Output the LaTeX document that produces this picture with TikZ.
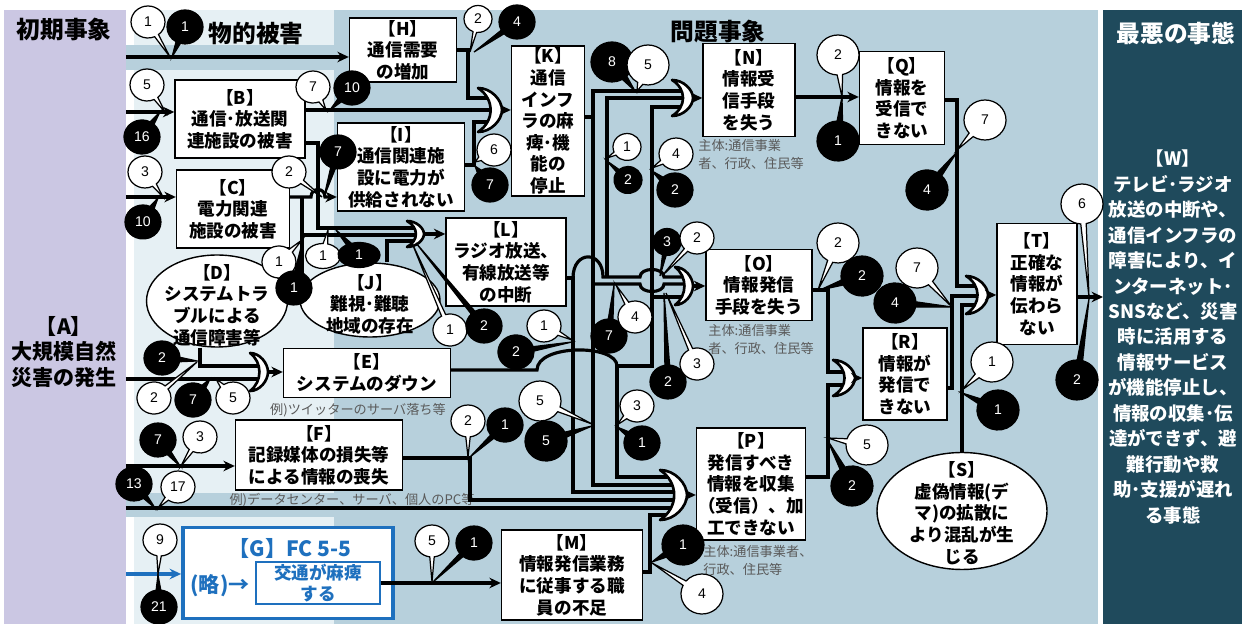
\documentclass[tikz,border=0pt]{standalone}
\usepackage{fontspec}
\setmainfont{Noto Sans CJK JP}
\newfontfamily\numf{Liberation Sans}
\usetikzlibrary{shapes.geometric,shapes.callouts,arrows.meta}
\definecolor{lav}{RGB}{203,199,227}
\definecolor{lite}{RGB}{230,240,244}
\definecolor{mid}{RGB}{183,208,220}
\definecolor{deep}{RGB}{31,74,92}
\definecolor{fcblue}{RGB}{30,112,190}
\definecolor{notegray}{RGB}{90,90,90}
\tikzset{
 panel/.style={draw=none,inner sep=0pt,outer sep=0pt},
 box/.style={draw,fill=white,line width=0.8pt,align=center,inner sep=1pt,font=\bfseries\fontsize{10}{12.3}\selectfont},
 ellbox/.style={draw,fill=white,line width=0.8pt,ellipse,inner sep=0pt},
 etext/.style={align=center,inner sep=0pt,font=\bfseries\fontsize{10}{12.3}\selectfont},
 wire/.style={line width=1.8pt},
 arr/.style={wire,-{Stealth[length=6.5pt,width=6pt]}},
 gate/.style={line width=1.5pt,fill=white,line join=round},
 note/.style={text=notegray,align=left,inner sep=0pt,font=\fontsize{7.5}{10.3}\selectfont},
 title/.style={inner sep=0pt,font=\bfseries\fontsize{13.5}{14}\selectfont},
 wb/.style={ellipse callout,draw,fill=white,line width=0.7pt,minimum width=0.68cm,minimum height=0.64cm,inner sep=0pt,font=\numf\fontsize{8}{8}\selectfont},
 bb/.style={wb,fill=black,text=white,minimum width=0.72cm,minimum height=0.68cm},
 big/.style={minimum width=0.84cm,minimum height=0.8cm},
 sml/.style={minimum width=0.56cm,minimum height=0.54cm},
 pics/orgate/.style 2 args={code={
  \draw[gate] (0,-#2) .. controls ({0.55*#1},-#2) and (#1,{-0.45*#2}) .. (#1,0)
   .. controls (#1,{0.45*#2}) and ({0.55*#1},#2) .. (0,#2)
   .. controls ({0.7*#1},{0.5*#2}) and ({0.7*#1},{-0.5*#2}) .. (0,-#2) -- cycle;
  \coordinate (-tip) at (#1,0);
 }}
}
\begin{document}
\begin{tikzpicture}[x=0.02cm,y=-0.02cm]
\useasboundingbox (0,0) rectangle (1242,624);
\fill[white] (0,0) rectangle (1242,624);
% columns
\node[panel,fill=lav,minimum width=2.44cm,minimum height=12.28cm] (pA) at (65,317) {};
\fill[lite] (134,10) rectangle (334,624);
\fill[mid] (334,10) rectangle (1098,624);
\fill[mid] (126,45) rectangle (334,70);
\fill[mid] (126,493) rectangle (334,517);
\node[panel,fill=deep,minimum width=2.78cm,minimum height=12.28cm] (pW) at (1172.5,317) {};
\node[title] (t1) at (64,30) {初期事象};
\node[title] (t2) at (256,33) {物的被害};
\node[title] (t3) at (718,32) {問題事象};
\node[title,text=white] (t4) at (1176,33) {最悪の事態};
\node[align=center,inner sep=0pt,font=\bfseries\fontsize{12}{14.5}\selectfont] (A) at (64,352) {【A】\\大規模自然\\災害の発生};
\node[align=center,inner sep=0pt,text=white,font=\bfseries\fontsize{10.5}{14.5}\selectfont] (W) at (1173,337)
 {【W】\\テレビ･ラジオ\\放送の中断や、\\通信インフラの\\障害により、イ\\ンターネット･\\SNSなど、災害\\時に活用する\\情報サービス\\が機能停止し、\\情報の収集･伝\\達ができず、避\\難行動や救\\助･支援が遅れ\\る事態};
% notes
\node[note,anchor=north west] (nN) at (698,139) {主体:通信事業\\者、行政、住民等};
\node[note,anchor=north west] (nO) at (708,324) {主体:通信事業\\者、行政、住民等};
\node[note,anchor=north west] (nP) at (703,545) {主体:通信事業者、\\行政、住民等};
\node[note] (nE) at (358,410) {例)ツイッターのサーバ落ち等};
\node[note] (nF) at (352,500) {例)データセンター、サーバ、個人のPC等};
% events
\node[box,minimum width=2.14cm,minimum height=1.28cm] (H) at (403,50) {【H】\\通信需要\\の増加};
\node[box,minimum width=2.6cm,minimum height=1.56cm] (B) at (240,119) {【B】\\通信･放送関\\連施設の被害};
\node[box,minimum width=2.26cm,minimum height=1.56cm] (C) at (233,209) {【C】\\電力関連\\施設の被害};
\node[box,minimum width=2.54cm,minimum height=1.76cm] (I) at (401,167) {【I】\\通信関連施\\設に電力が\\供給されない};
\node[box,minimum width=1.46cm,minimum height=3cm] (K) at (548,121) {【K】\\通信\\インフ\\ラの麻\\痺･機\\能の\\停止};
\node[box,minimum width=2.4cm,minimum height=1.76cm] (L) at (506,262) {【L】\\ラジオ放送、\\有線放送等\\の中断};
\node[ellbox,minimum width=2.82cm,minimum height=1.84cm] (D) at (217,301) {};
\node[etext] (Dtx) at (217,305) {【D】\\システムトラ\\ブルによる\\通信障害等};
\node[ellbox,minimum width=2.8cm,minimum height=1.48cm] (J) at (370,300) {};
\node[etext] (Jtx) at (370,304) {【J】\\難視･難聴\\地域の存在};
\node[box,minimum width=3.34cm,minimum height=0.98cm] (E) at (367,373) {【E】\\システムのダウン};
\node[box,minimum width=3.34cm,minimum height=1.4cm] (F) at (319,455) {【F】\\記録媒体の損失等\\による情報の喪失};
\node[draw=fcblue,line width=2.2pt,fill=white,minimum width=4.2cm,minimum height=1.82cm] (G) at (288,573) {};
\node[text=fcblue,inner sep=0pt,font=\bfseries\fontsize{12}{12}\selectfont] (Gt) at (290,548) {【G】FC 5-5};
\node[text=fcblue,inner sep=0pt,font=\bfseries\fontsize{12}{12}\selectfont] (Gr) at (220,586) {(略)→};
\node[draw=fcblue,line width=0.8pt,fill=white,text=fcblue,align=center,inner sep=1pt,font=\bfseries\fontsize{10}{12}\selectfont,minimum width=2.48cm,minimum height=0.84cm] (Gi) at (318,583) {交通が麻痺\\する};
\node[box,minimum width=2.82cm,minimum height=1.8cm] (M) at (572,575) {【M】\\情報発信業務\\に従事する職\\員の不足};
\node[box,minimum width=1.84cm,minimum height=1.86cm] (N) at (749,90) {【N】\\情報受\\信手段\\を失う};
\node[box,minimum width=2.12cm,minimum height=1.42cm] (O) at (759,285) {【O】\\情報発信\\手段を失う};
\node[box,minimum width=1.96cm,minimum height=2.24cm] (P) at (751,484) {【P】\\発信すべき\\情報を収集\\（受信）、加\\工できない};
\node[box,minimum width=1.7cm,minimum height=1.86cm] (Q) at (902,98) {【Q】\\情報を\\受信で\\きない};
\node[box,minimum width=1.68cm,minimum height=1.84cm] (R) at (905,374) {【R】\\情報が\\発信で\\きない};
\node[box,minimum width=1.6cm,minimum height=2.42cm] (T) at (1037,284) {【T】\\正確な\\情報が\\伝わら\\ない};
\node[ellbox,minimum width=3.4cm,minimum height=2.34cm] (S) at (962,511) {};
\node[etext] (Stx) at (962,513) {【S】\\虚偽情報(デ\\マ)の拡散に\\より混乱が生\\じる};
% wires, left part
\draw[arr] (pA.east|-0,57) -- (H.west|-0,57);
\draw[arr] (pA.east|-0,112) -- (B.west|-0,112);
\draw[arr] (pA.east|-0,197) -- (C.west|-0,197);
\draw[wire] (H.east|-0,50) -- (468,50) -- (468,98) -- (491,98);
\draw[wire] (B.east|-0,110) -- (491,110);
\draw[wire] (I.east|-0,165) -- (474,165) -- (474,122) -- (491,122);
\draw[wire] (B.east|-0,143) -- (318,143) -- (318,228) -- (416,228);
\draw[arr] (C.east|-0,197) -- (311,197) .. controls (311,187) and (325,187) .. (325,197) -- (I.west|-0,197);
\draw[wire] (302,197) -- (302,283) (302,235) -- (416,235);
\draw[wire] (J.north-|387,0) -- (387,241) -- (416,241);
\draw[wire] (D.south-|200,0) -- (200,366) -- (260,366);
\draw[wire] (pA.east|-0,379) -- (260,379);
\draw[arr] (pA.east|-0,466) -- (F.west|-0,466);
\draw[wire] (F.east|-0,458) -- (470,458) -- (470,500) -- (675,500);
\draw[wire] (pA.east|-0,508) -- (675,508);
\draw[arr,fcblue] (pA.east|-0,574) -- (G.west|-0,574);
\draw[arr] (Gi.east) -- (M.west|-Gi.east);
\draw[wire] (M.east|-0,572) -- (650,572) -- (650,515) -- (675,515);
% buses in the middle
\draw[wire] (K.east|-0,117) -- (593,117);
\draw[wire] (684,91) -- (593,91) -- (593,485) -- (675,485);
\draw[wire] (593,284) -- (640,284) .. controls (640,294) and (664,294) .. (664,284) -- (685,284);
\draw[wire] (L.east|-0,278) -- (573,278) -- (573,492) -- (675,492);
\draw[wire] (573,278) .. controls (573,250) and (603,250) .. (603,277) -- (640,277) .. controls (640,267) and (664,267) .. (664,277) -- (685,277);
\draw[wire] (684,98) -- (607,98) -- (607,277);
\draw[wire] (E.east|-0,370) -- (537,370) .. controls (537,344) and (617,344) .. (617,366);
\draw[wire] (684,107) -- (652,107) -- (652,366) -- (617,366) -- (617,477) -- (675,477);
\draw[wire] (652,297) -- (685,297);
% right part
\draw[arr] (N.east|-0,97) -- (Q.west|-0,97);
\draw[wire] (O.east|-0,290) -- (828,290) -- (828,372) -- (845,372);
\draw[wire] (P.east|-0,477) -- (828,477) -- (828,385) -- (845,385);
\draw[wire] (Q.east|-0,100) -- (957,100) -- (957,286) -- (978,286);
\draw[wire] (R.east|-0,388) -- (952,388) -- (952,296) -- (978,296);
\draw[wire] (S.north) -- (S.north|-0,305) -- (978,305);
\draw[arr] (T.east|-0,297) -- (pW.west|-0,297);
% OR gates
\pic (gK) at (478,110) {orgate={24}{22}};
\pic (gL) at (407,234) {orgate={17}{13}};
\pic (gE) at (250,372) {orgate={18}{19}};
\pic (gN) at (672,98) {orgate={21}{18}};
\pic (gO) at (675,286) {orgate={18}{19}};
\pic (gP) at (660,495) {orgate={27}{25}};
\pic (gR) at (833,378) {orgate={22}{18}};
\pic (gT) at (966,295) {orgate={22}{19}};
\draw[arr] (gK-tip) -- (K.west|-gK-tip);
\draw[arr] (gL-tip) -- (L.west|-gL-tip);
\draw[arr] (gE-tip) -- (E.west|-gE-tip);
\draw[arr] (gN-tip) -- (N.west|-gN-tip);
\draw[arr] (gO-tip) -- (O.west|-gO-tip);
\draw[arr] (gP-tip) -- (P.west|-gP-tip);
\draw[arr] (gR-tip) -- (R.west|-gR-tip);
\draw[arr] (gT-tip) -- (T.west|-gT-tip);
% number bubbles
\node[wb,callout absolute pointer={(170,57)}] (w1) at (148,22) {1};
\node[bb,callout absolute pointer={(172,57)}] (b1) at (185,27) {1};
\node[wb,callout absolute pointer={(165,112)}] (w2) at (147,85) {5};
\node[bb,callout absolute pointer={(160,112)}] (b2) at (142,137) {16};
\node[wb,callout absolute pointer={(326,110)}] (w3) at (313,87) {7};
\node[bb,callout absolute pointer={(330,110)}] (b3) at (352,88) {10};
\node[wb,callout absolute pointer={(163,197)}] (w4) at (145,172) {3};
\node[bb,callout absolute pointer={(158,198)}] (b4) at (143,222) {10};
\node[wb,callout absolute pointer={(322,197)}] (w5) at (289,172) {2};
\node[bb,callout absolute pointer={(324,197)}] (b5) at (338,152) {7};
\node[wb,sml,callout absolute pointer={(470,52)}] (w6) at (478,19) {2};
\node[bb,callout absolute pointer={(474,52)}] (b6) at (517,22) {4};
\node[wb,callout absolute pointer={(475,162)}] (w7) at (494,150) {6};
\node[bb,callout absolute pointer={(475,166)}] (b7) at (490,185) {7};
\node[wb,callout absolute pointer={(302,240)}] (w8) at (279,262) {1};
\node[bb,callout absolute pointer={(303,240)}] (b8) at (294,288) {1};
\node[wb,minimum width=0.7cm,minimum height=0.5cm,callout absolute pointer={(328,230)}] (w9) at (323,256) {1};
\node[bb,minimum width=0.84cm,minimum height=0.5cm,callout absolute pointer={(336,230)}] (b9) at (359,255) {1};
\node[wb,callout absolute pointer={(412,243)}] (w10) at (450,330) {1};
\node[bb,callout absolute pointer={(416,243)}] (b10) at (484,326) {2};
\node[bb,callout absolute pointer={(197,361)}] (b11) at (162,358) {2};
\node[wb,callout absolute pointer={(197,362)}] (w11) at (154,398) {2};
\node[bb,callout absolute pointer={(210,379)}] (b12) at (193,400) {7};
\node[wb,callout absolute pointer={(216,379)}] (w12) at (233,398) {5};
\node[bb,callout absolute pointer={(180,466)}] (b13) at (158,440) {7};
\node[wb,callout absolute pointer={(181,466)}] (w13) at (200,437) {3};
\node[bb,callout absolute pointer={(155,508)}] (b14) at (134,484) {13};
\node[wb,callout absolute pointer={(158,508)}] (w14) at (178,487) {17};
\node[wb,callout absolute pointer={(158,574)}] (w15) at (160,540) {9};
\node[bb,callout absolute pointer={(158,575)}] (b15) at (159,607) {21};
\node[wb,callout absolute pointer={(432,582)}] (w16) at (432,541) {5};
\node[bb,callout absolute pointer={(433,582)}] (b16) at (474,543) {1};
\node[wb,callout absolute pointer={(468,457)}] (w17) at (468,421) {2};
\node[bb,callout absolute pointer={(470,457)}] (b17) at (505,425) {1};
\node[wb,callout absolute pointer={(572,340)}] (w18) at (544,326) {1};
\node[bb,callout absolute pointer={(572,342)}] (b18) at (516,352) {2};
\node[wb,big,callout absolute pointer={(592,424)}] (w19) at (540,401) {5};
\node[bb,big,callout absolute pointer={(592,426)}] (b19) at (546,441) {5};
\node[wb,callout absolute pointer={(617,425)}] (w20) at (637,406) {3};
\node[bb,callout absolute pointer={(617,427)}] (b20) at (642,443) {1};
\node[wb,sml,callout absolute pointer={(607,158)}] (w21) at (627,147) {1};
\node[bb,sml,callout absolute pointer={(607,161)}] (b21) at (628,180) {2};
\node[wb,callout absolute pointer={(652,168)}] (w22) at (676,154) {4};
\node[bb,callout absolute pointer={(652,171)}] (b22) at (675,190) {2};
\node[bb,big,callout absolute pointer={(635,91)}] (b23) at (612,62) {8};
\node[wb,big,callout absolute pointer={(637,91)}] (w23) at (648,65) {5};
\node[bb,sml,callout absolute pointer={(660,276)}] (b24) at (667,242) {3};
\node[wb,callout absolute pointer={(662,276)}] (w24) at (697,238) {2};
\node[bb,callout absolute pointer={(614,285)}] (b25) at (609,336) {7};
\node[wb,callout absolute pointer={(616,285)}] (w25) at (635,317) {4};
\node[bb,callout absolute pointer={(664,293)}] (b26) at (668,382) {2};
\node[wb,callout absolute pointer={(666,293)}] (w26) at (697,364) {3};
\node[bb,big,callout absolute pointer={(652,562)}] (b27) at (683,545) {1};
\node[wb,big,callout absolute pointer={(652,563)}] (w27) at (702,594) {4};
\node[wb,big,callout absolute pointer={(842,97)}] (w28) at (838,55) {2};
\node[bb,big,callout absolute pointer={(842,97)}] (b28) at (838,141) {1};
\node[wb,big,callout absolute pointer={(818,290)}] (w29) at (838,243) {2};
\node[bb,big,callout absolute pointer={(820,290)}] (b29) at (862,276) {2};
\node[wb,big,callout absolute pointer={(952,307)}] (w30) at (917,268) {7};
\node[bb,big,callout absolute pointer={(952,307)}] (b30) at (895,303) {4};
\node[wb,big,callout absolute pointer={(957,150)}] (w31) at (985,120) {7};
\node[bb,big,callout absolute pointer={(957,152)}] (b31) at (927,190) {4};
\node[wb,big,callout absolute pointer={(962,390)}] (w32) at (992,362) {1};
\node[bb,big,callout absolute pointer={(962,393)}] (b32) at (998,410) {1};
\node[wb,big,callout absolute pointer={(1089,297)}] (w33) at (1082,204) {6};
\node[bb,big,callout absolute pointer={(1089,299)}] (b33) at (1077,380) {2};
\node[wb,big,callout absolute pointer={(828,438)}] (w34) at (867,445) {5};
\node[bb,big,callout absolute pointer={(828,441)}] (b34) at (852,486) {2};
\end{tikzpicture}
\end{document}
